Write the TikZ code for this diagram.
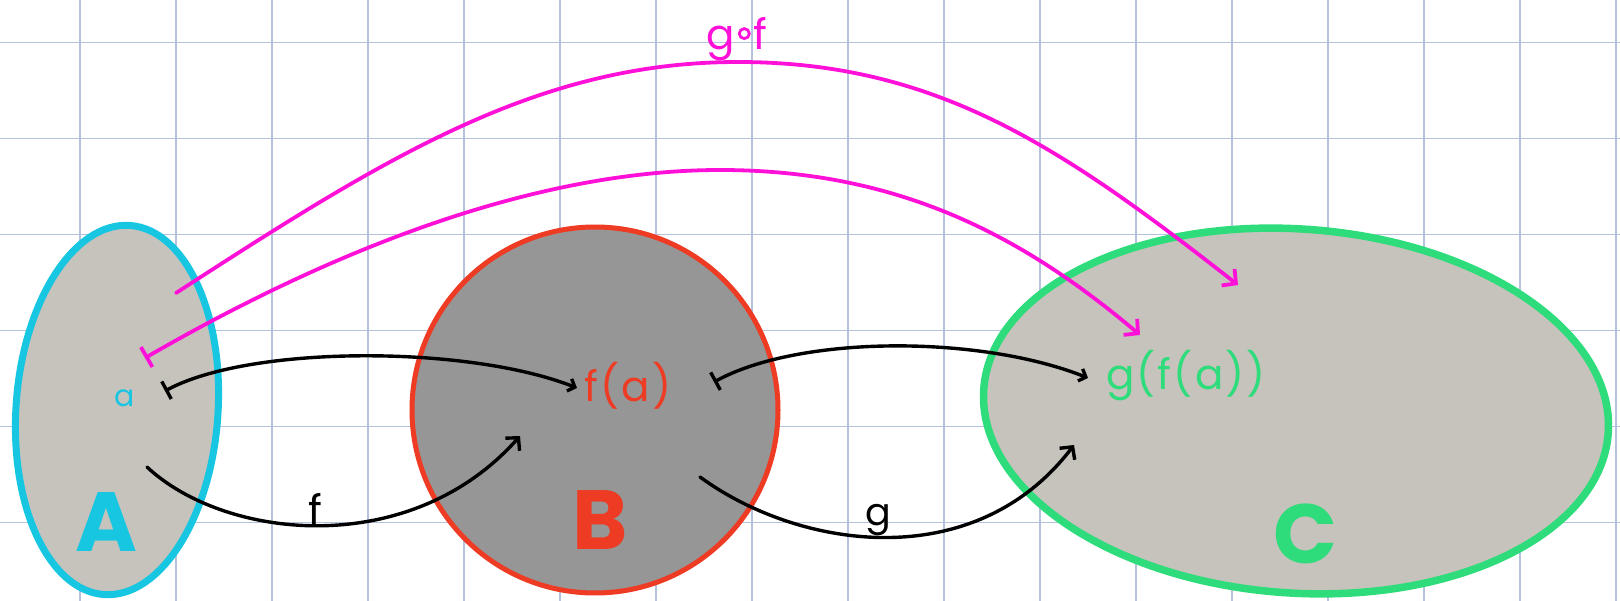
\documentclass[tikz,border=0pt]{standalone}
\usepackage{fontspec}
\setmainfont{Poppins}
\usetikzlibrary{arrows.meta,shapes.geometric}
\definecolor{gridc}{RGB}{180,194,222}
\definecolor{cyanA}{RGB}{23,198,225}
\definecolor{redB}{RGB}{238,59,36}
\definecolor{greenC}{RGB}{46,220,123}
\definecolor{mag}{RGB}{255,16,217}
\definecolor{fillAC}{RGB}{198,195,188}
\definecolor{fillB}{RGB}{150,150,150}
\tikzset{
  gridline/.style={gridc, line width=1.3pt},
  setshape/.style={ellipse, inner sep=0pt},
  maparrow/.style={line width=3.4pt, line cap=round, -{Straight Barb[length=9pt,width=19pt]}},
  mapsto/.style={line width=3.4pt, line cap=round, {Bar[width=20pt]}-{Straight Barb[length=6pt,width=13pt]}},
  magmapsto/.style={mag, line width=3.8pt, line cap=round, {Bar[width=23pt]}-{Straight Barb[length=10pt,width=21pt]}},
  magarrow/.style={mag, line width=3.8pt, line cap=round, -{Straight Barb[length=10pt,width=21pt]}},
  bigletter/.style={font=\fontsize{84}{84}\selectfont\bfseries},
  elem/.style={font=\fontsize{42}{42}\selectfont},
  lbl/.style={font=\fontsize{42}{42}\selectfont},
}
\begin{document}
\begin{tikzpicture}[x=1pt,y=-1pt]
\useasboundingbox (0,0) rectangle (1620,601);
\fill[white] (0,0) rectangle (1620,601);
\foreach \i in {0,...,16} \draw[gridline] (80+96*\i,0) -- (80+96*\i,601);
\foreach \j in {0,...,5} \draw[gridline] (0,42.5+96*\j) -- (1620,42.5+96*\j);

% sets
\node[setshape, draw=cyanA, fill=fillAC, line width=7pt, minimum width=202pt, minimum height=370pt, rotate=-4] (A) at (117,410) {};
\node[circle, inner sep=0pt, draw=redB, fill=fillB, line width=5pt, minimum size=366pt] (B) at (595,410) {};
\node[setshape, draw=greenC, fill=fillAC, line width=7.5pt, minimum width=626pt, minimum height=364pt, rotate=-4] (C) at (1296,411) {};

% labels of sets
\node[bigletter, text=cyanA] (LA) at (106,522) {A};
\node[bigletter, text=redB] (LB) at (600,520) {B};
\node[bigletter, text=greenC] (LC) at (1305,534) {C};

% elements
\node[font=\fontsize{30}{30}\selectfont, text=cyanA] (ea) at (125,398) {a};
\node[elem, text=redB] (efa) at (628,386) {\addfontfeatures{LetterSpace=6}f(a)};
\node[elem, text=greenC] (egfa) at (1186,376) {\addfontfeatures{LetterSpace=5}g(f(a))};

% endpoints
\coordinate (fs) at (147,467);
\coordinate (fe) at (520,436);
\coordinate (gs) at (700,477);
\coordinate (ge) at (1074,445);
\coordinate (m1s) at (165,391);
\coordinate (m1e) at (577,388);
\coordinate (m2s) at (714,382);
\coordinate (m2e) at (1088,378);
\coordinate (m3s) at (145,358);
\coordinate (m3p) at (720,170);
\coordinate (m3e) at (1140,335);
\coordinate (cs) at (176,293);
\coordinate (cp) at (738,62);
\coordinate (ce) at (1238,285);

% black arrows
\draw[maparrow] (fs) .. controls (225,540) and (410,560) .. (fe);
\draw[maparrow] (gs) .. controls (800,550) and (975,575) .. (ge);
\draw[mapsto] (m1s) .. controls (250,345) and (468,345) .. (m1e);
\draw[mapsto] (m2s) .. controls (800,335) and (980,335) .. (m2e);

% magenta arrows
\draw[magmapsto] (m3s) .. controls (275,283) and (500,170) .. (m3p) .. controls (900,170) and (1024,237) .. (m3e);
\draw[magarrow] (cs) .. controls (386,157) and (538,62) .. (cp) .. controls (938,62) and (1064,149) .. (ce);

% arrow labels
\node[lbl, anchor=base] (lf) at (315,525) {f};
\node[font=\fontsize{38}{38}\selectfont, anchor=base] (lg) at (878,525) {g};
\node[lbl, text=mag, anchor=base] (lgf) at (737,50) {g\hspace{3pt}\raisebox{10pt}{\tikz\draw[mag,line width=2.8pt] (0,0) circle (5pt);}\hspace{3pt}f};
\end{tikzpicture}
\end{document}
